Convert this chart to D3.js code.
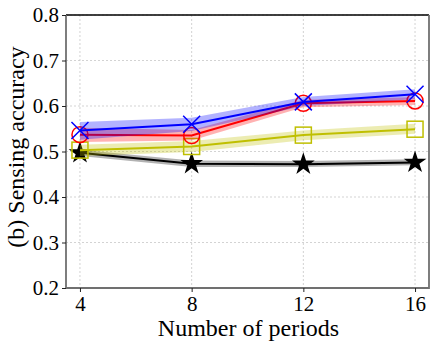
<!DOCTYPE html>
<html>
<head>
<meta charset="utf-8">
<script src="https://cdn.jsdelivr.net/npm/d3@7"></script>
<style>
  body { margin: 0; background: #fff; }
  text { font-family: "Liberation Serif", "Times New Roman", serif; fill: #000; }
</style>
</head>
<body>
<svg id="chart" width="436" height="349"></svg>
<script>
const periods = [4, 8, 12, 16];
const yTicks = [0.2, 0.3, 0.4, 0.5, 0.6, 0.7, 0.8];

// mean values, with lower / upper band edges
const blueMean = [0.546, 0.560, 0.609, 0.626];
const blueLow = [0.526, 0.545, 0.600, 0.615];
const blueHigh = [0.565, 0.574, 0.620, 0.637];

const redMean = [0.537, 0.535, 0.606, 0.611];
const redLow = [0.521, 0.524, 0.597, 0.602];
const redHigh = [0.552, 0.547, 0.614, 0.619];

const yellowMean = [0.503, 0.511, 0.536, 0.549];
const yellowLow = [0.490, 0.499, 0.525, 0.539];
const yellowHigh = [0.515, 0.523, 0.546, 0.561];

const blackMean = [0.497, 0.473, 0.472, 0.476];
const blackLow = [0.490, 0.466, 0.466, 0.470];
const blackHigh = [0.504, 0.480, 0.479, 0.483];

const series = [
  { mean: blackMean, low: blackLow, high: blackHigh, color: "#000000", band: "#000000", marker: "star" },
  { mean: yellowMean, low: yellowLow, high: yellowHigh, color: "#bfbf00", band: "#bfbf00", marker: "square" },
  { mean: redMean, low: redLow, high: redHigh, color: "#ff0000", band: "#ff0000", marker: "circle" },
  { mean: blueMean, low: blueLow, high: blueHigh, color: "#0000ff", band: "#0000ff", marker: "x" }
];

const svg = d3.select("#chart");
const mLeft = 66, mRight = 429, mTop = 15, mBottom = 288;

const x = d3.scaleLinear().domain([3.5, 16.5]).range([mLeft, mRight]);
const y = d3.scaleLinear().domain([0.2, 0.8]).range([mBottom, mTop]);

// grid
const grid = svg.append("g");
grid.selectAll("line.gx").data(periods).enter().append("line")
  .attr("x1", d => x(d)).attr("x2", d => x(d))
  .attr("y1", mTop).attr("y2", mBottom)
  .attr("stroke", "#c8c8c8").attr("stroke-width", 0.8).attr("stroke-dasharray", "2,2");
grid.selectAll("line.gy").data(yTicks).enter().append("line")
  .attr("x1", mLeft).attr("x2", mRight)
  .attr("y1", d => y(d)).attr("y2", d => y(d))
  .attr("stroke", "#c8c8c8").attr("stroke-width", 0.8).attr("stroke-dasharray", "2,2");

const area = d3.area()
  .x((d, i) => x(periods[i]))
  .y0(d => y(d[0]))
  .y1(d => y(d[1]));
const line = d3.line()
  .x((d, i) => x(periods[i]))
  .y(d => y(d));

const star = d3.symbol().type(d3.symbolStar).size(160);

series.forEach(s => {
  const g = svg.append("g");
  g.append("path")
    .datum(s.low.map((v, i) => [v, s.high[i]]))
    .attr("d", area)
    .attr("fill", s.band).attr("fill-opacity", 0.3);
  g.append("path")
    .datum(s.mean)
    .attr("d", line)
    .attr("fill", "none").attr("stroke", s.color).attr("stroke-width", 2);

  const pts = g.selectAll("g.m").data(s.mean).enter().append("g")
    .attr("transform", (d, i) => `translate(${x(periods[i])},${y(d)})`);
  if (s.marker === "star") {
    pts.append("path").attr("d", star).attr("fill", "#000");
  } else if (s.marker === "square") {
    pts.append("rect").attr("x", -8).attr("y", -8).attr("width", 16).attr("height", 16)
      .attr("fill", "none").attr("stroke", s.color).attr("stroke-width", 1.5);
  } else if (s.marker === "circle") {
    pts.append("circle").attr("r", 8)
      .attr("fill", "none").attr("stroke", s.color).attr("stroke-width", 1.5);
  } else {
    pts.append("path").attr("d", "M-8.5,-8.5L8.5,8.5M-8.5,8.5L8.5,-8.5")
      .attr("stroke", s.color).attr("stroke-width", 1.5);
  }
});

// spines: top dark, others grey
const spines = svg.append("g").attr("fill", "none");
spines.append("line").attr("x1", mLeft).attr("x2", mRight).attr("y1", mTop).attr("y2", mTop)
  .attr("stroke", "#000").attr("stroke-width", 1.5);
spines.append("path")
  .attr("d", `M${mLeft},${mTop}V${mBottom}H${mRight}V${mTop}`)
  .attr("stroke", "#707070").attr("stroke-width", 1.8);

// axes
const xAxis = svg.append("g")
  .attr("transform", `translate(0,${mBottom})`)
  .call(d3.axisBottom(x).tickValues(periods).tickSize(4).tickPadding(4));
const yAxis = svg.append("g")
  .attr("transform", `translate(${mLeft},0)`)
  .call(d3.axisLeft(y).tickValues(yTicks).tickFormat(d3.format(".1f")).tickSize(4).tickPadding(3));
[xAxis, yAxis].forEach(a => {
  a.attr("font-family", "'Liberation Serif', 'Times New Roman', serif").attr("font-size", 21);
  a.select(".domain").remove();
  a.selectAll(".tick line").attr("stroke", "#222");
});

svg.append("text")
  .attr("x", (mLeft + mRight) / 2 + 1).attr("y", 336)
  .attr("text-anchor", "middle")
  .style("font-size", "24px")
  .text("Number of periods");

svg.append("text")
  .attr("transform", `translate(24,147) rotate(-90)`)
  .attr("text-anchor", "middle")
  .style("font-size", "24px")
  .text("(b) Sensing accuracy");
</script>
</body>
</html>
